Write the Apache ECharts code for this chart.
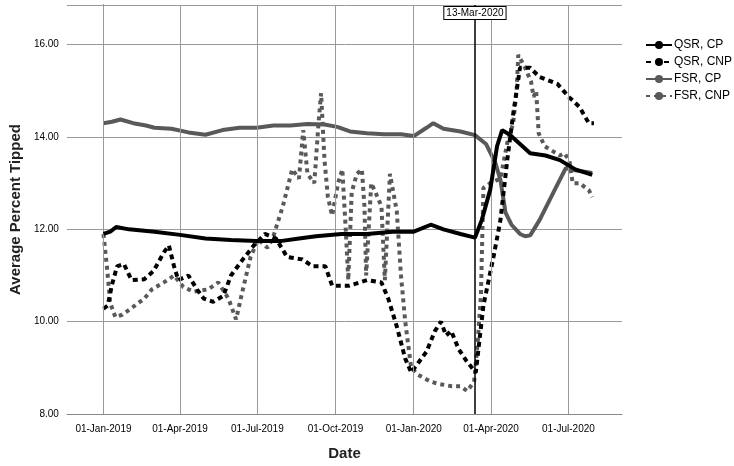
<!DOCTYPE html>
<html>
<head>
<meta charset="utf-8">
<script src="https://cdn.jsdelivr.net/npm/echarts@6/dist/echarts.min.js"></script>
<style>html,body{margin:0;padding:0;background:#fff}#container{width:734px;height:466px}</style>
</head>
<body>
<div id="container"></div>
<script>
// x values are days since 01-Jan-2019
var tickDays = [0, 90, 181, 273, 365, 456, 547];
var tickLabels = ['01-Jan-2019', '01-Apr-2019', '01-Jul-2019', '01-Oct-2019', '01-Jan-2020', '01-Apr-2020', '01-Jul-2020'];
var eventDay = 437;
var eventLabel = '13-Mar-2020';

var qsrCp = [[0,11.9],[8,11.95],[15,12.05],[30,12.0],[60,11.95],[90,11.88],[120,11.8],[150,11.77],[180,11.75],[210,11.75],[230,11.8],[250,11.85],[280,11.9],[310,11.9],[340,11.95],[365,11.95],[385,12.1],[400,12.0],[420,11.9],[437,11.82],[445,12.2],[455,12.86],[463,13.8],[469,14.15],[478,14.05],[490,13.85],[502,13.65],[520,13.6],[537,13.5],[555,13.3],[575,13.18]];
var qsrCnp = [[0,10.28],[5,10.35],[10,10.8],[16,11.2],[24,11.25],[33,10.9],[48,10.92],[59,11.1],[71,11.5],[77,11.65],[83,11.2],[88,10.9],[100,11.0],[110,10.7],[118,10.5],[129,10.43],[141,10.56],[150,11.0],[164,11.35],[179,11.7],[190,11.9],[203,11.8],[216,11.4],[234,11.35],[246,11.2],[261,11.2],[269,10.78],[289,10.78],[310,10.9],[327,10.85],[335,10.5],[345,9.9],[355,9.2],[362,8.9],[370,9.1],[380,9.35],[390,9.8],[397,10.0],[403,9.7],[409,9.8],[418,9.4],[427,9.15],[438,8.9],[447,10.35],[459,11.42],[467,12.2],[475,13.5],[482,14.5],[490,15.5],[502,15.5],[513,15.3],[534,15.15],[548,14.86],[560,14.65],[571,14.3],[577,14.3]];
var fsrCp = [[0,14.3],[10,14.33],[20,14.38],[35,14.3],[50,14.25],[60,14.2],[80,14.18],[100,14.1],[120,14.05],[140,14.15],[160,14.2],[180,14.2],[200,14.25],[220,14.25],[240,14.28],[260,14.27],[275,14.22],[290,14.12],[310,14.08],[330,14.06],[350,14.06],[365,14.02],[380,14.2],[388,14.3],[400,14.18],[420,14.12],[437,14.04],[450,13.85],[461,13.44],[467,13.07],[473,12.36],[480,12.1],[490,11.9],[496,11.85],[502,11.87],[513,12.2],[531,12.86],[544,13.33],[555,13.28],[566,13.25],[575,13.22]];
var fsrCnp = [[0,11.9],[4,11.2],[8,10.4],[14,10.1],[22,10.15],[32,10.28],[48,10.5],[57,10.7],[71,10.85],[83,11.0],[94,10.75],[106,10.65],[123,10.7],[135,10.85],[147,10.5],[156,10.05],[164,10.7],[173,11.4],[182,11.78],[193,11.6],[199,11.8],[211,12.5],[222,13.3],[230,13.1],[235,14.15],[240,13.2],[248,13.0],[253,14.3],[256,14.95],[260,13.5],[264,12.7],[269,12.3],[276,13.0],[281,13.3],[285,12.0],[288,10.9],[292,12.8],[298,13.2],[304,13.3],[307,12.5],[309,11.0],[315,13.0],[320,12.8],[327,12.5],[331,10.9],[337,13.2],[345,12.4],[350,11.0],[355,10.0],[362,9.0],[370,8.85],[385,8.7],[395,8.65],[410,8.6],[420,8.6],[428,8.5],[436,8.7],[440,9.5],[444,10.56],[447,12.9],[455,13.0],[467,13.1],[475,13.87],[482,14.3],[486,15.0],[488,15.78],[496,15.5],[503,15.2],[506,14.87],[509,15.0],[512,14.08],[519,13.8],[537,13.6],[542,13.65],[548,13.5],[552,13.0],[560,13.0],[571,12.85],[575,12.7]];

var dark = '#000000';
var grey = '#595959';
var font = 'Liberation Sans';

var gridLines = tickDays.map(function (d) { return { xAxis: d }; });

var myChart = echarts.init(document.getElementById('container'));
var option = {
    backgroundColor: '#fff',
    animation: false,
    textStyle: { fontFamily: font },
    grid: { left: 62, right: 112, top: 5, bottom: 49 },
    legend: {
        orient: 'vertical',
        left: 640,
        top: 34,
        itemWidth: 26,
        itemHeight: 10,
        itemGap: 5,
        textStyle: { fontSize: 12, color: '#000', fontFamily: font, padding: [0, 0, 0, -3] },
        data: ['QSR, CP', 'QSR, CNP', 'FSR, CP', 'FSR, CNP']
    },
    xAxis: {
        type: 'value',
        min: -43,
        max: 610,
        name: 'Date',
        nameLocation: 'middle',
        nameGap: 32,
        nameTextStyle: { fontSize: 15, fontWeight: 'bold', color: '#222' },
        axisLine: { lineStyle: { color: '#888' } },
        axisTick: { show: false },
        splitLine: { show: false },
        axisLabel: {
            customValues: tickDays,
            fontSize: 10,
            color: '#000',
            margin: 10,
            formatter: function (v) { return tickLabels[tickDays.indexOf(v)] || ''; }
        }
    },
    yAxis: {
        type: 'value',
        min: 8,
        max: 16.86,
        interval: 2,
        name: 'Average Percent Tipped',
        nameLocation: 'middle',
        nameGap: 42,
        nameTextStyle: { fontSize: 15, fontWeight: 'bold', color: '#222' },
        axisLine: { show: true, lineStyle: { color: '#000' } },
        axisTick: { show: false },
        splitLine: { lineStyle: { color: '#999', width: 1 } },
        axisLabel: {
            fontSize: 10, color: '#000', margin: 8,
            formatter: function (v) { return v % 2 === 0 ? v.toFixed(2) : ''; }
        }
    },
    series: [
        {
            name: 'QSR, CP', type: 'line', data: qsrCp, symbol: 'none',
            lineStyle: { color: dark, width: 4 }, itemStyle: { color: dark },
            markLine: {
                silent: true, symbol: 'none', animation: false,
                lineStyle: { color: '#999', width: 1, type: 'solid' },
                label: { show: false },
                data: gridLines
            },
            z: 5
        },
        {
            name: 'QSR, CNP', type: 'line', data: qsrCnp, symbol: 'none',
            lineStyle: { color: dark, width: 4, type: [5, 4] }, itemStyle: { color: dark },
            markLine: {
                silent: true, symbol: 'none', animation: false,
                lineStyle: { color: '#000', width: 1.5, type: 'solid' },
                label: {
                    show: true, position: 'end', distance: -14, formatter: eventLabel,
                    fontSize: 10, color: '#000', backgroundColor: '#fff',
                    borderColor: '#000', borderWidth: 1, padding: [1, 2]
                },
                data: [{ xAxis: eventDay }]
            },
            z: 4
        },
        {
            name: 'FSR, CP', type: 'line', data: fsrCp, symbol: 'none',
            lineStyle: { color: grey, width: 4 }, itemStyle: { color: grey },
            z: 3
        },
        {
            name: 'FSR, CNP', type: 'line', data: fsrCnp, symbol: 'none',
            lineStyle: { color: grey, width: 4, type: [4, 4] }, itemStyle: { color: grey },
            z: 2
        }
    ]
};
myChart.setOption(option);
</script>
</body>
</html>
